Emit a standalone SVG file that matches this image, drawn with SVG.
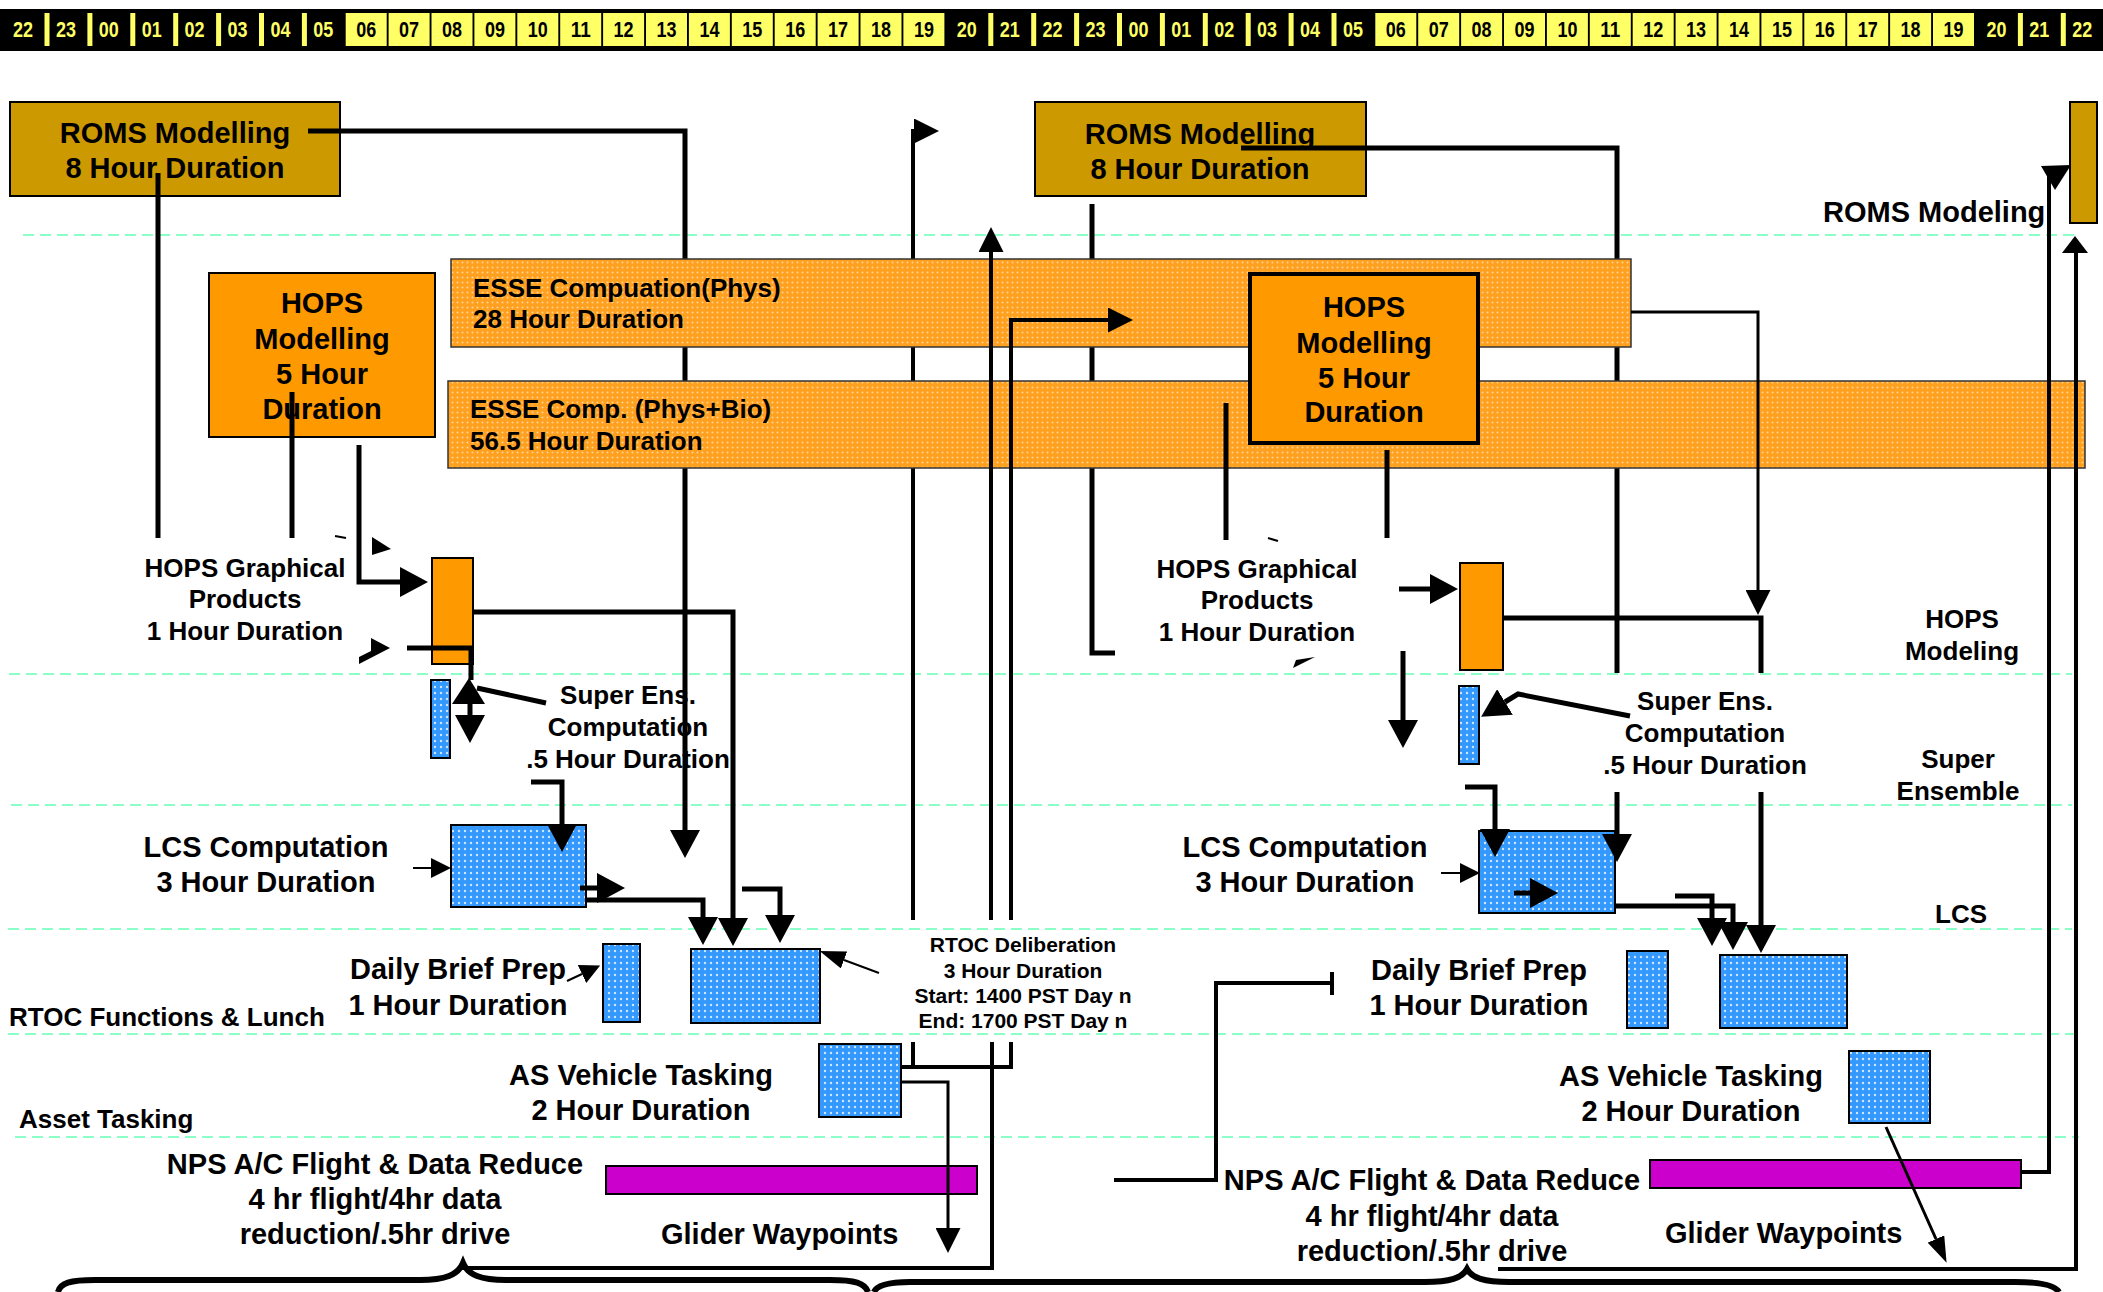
<svg xmlns="http://www.w3.org/2000/svg" width="2103" height="1292" viewBox="0 0 2103 1292">
<style>
.t29{font-family:'Liberation Sans',Arial,sans-serif;font-weight:bold;font-size:29px;fill:#000}
.t26{font-family:'Liberation Sans',Arial,sans-serif;font-weight:bold;font-size:26px;fill:#000}
.t21{font-family:'Liberation Sans',Arial,sans-serif;font-weight:bold;font-size:21px;fill:#000}
.hr{font-family:'Liberation Sans Narrow','Liberation Sans',Arial,sans-serif;font-weight:bold;font-size:22px;text-anchor:middle}
.hy{fill:#FFFF66}
.hk{fill:#000}
.mid{text-anchor:middle}
.end{text-anchor:end}
.lane{stroke:#8CFFC6;stroke-width:2;stroke-dasharray:11 6}
.c5{fill:none;stroke:#000;stroke-width:5;stroke-linejoin:miter}
.c4{fill:none;stroke:#000;stroke-width:4;stroke-linejoin:miter}
.c3{fill:none;stroke:#000;stroke-width:3;stroke-linejoin:miter}
.c2{fill:none;stroke:#000;stroke-width:2;stroke-linejoin:miter}
.roms{fill:#CC9900;stroke:#000;stroke-width:2}
.hops{fill:#FF9900;stroke:#000;stroke-width:2}
.blue{fill:url(#blueDots);stroke:#000;stroke-width:2}
.band{fill:url(#orangeDots);stroke:#333;stroke-width:1.5}
.mag{fill:#CC00CC;stroke:#000;stroke-width:2}
.cell{fill:#FFFF66}
</style>
<defs>
<pattern id="blueDots" width="6" height="6" patternUnits="userSpaceOnUse"><rect width="6" height="6" fill="#3399FF"/><circle cx="3" cy="3" r="1.2" fill="#CFE7FF"/></pattern>
<pattern id="orangeDots" width="5" height="5" patternUnits="userSpaceOnUse"><rect width="5" height="5" fill="#FFA01F"/><circle cx="2.5" cy="2.5" r="1" fill="#FFD596"/></pattern>
<marker id="ahBig" markerUnits="userSpaceOnUse" markerWidth="28" markerHeight="30" refX="0" refY="15" orient="auto" viewBox="0 0 28 30"><path d="M0,0 L28,15 L0,30 Z" fill="#000"/></marker>
<marker id="ahMed" markerUnits="userSpaceOnUse" markerWidth="25" markerHeight="25" refX="0" refY="12.5" orient="auto" viewBox="0 0 25 25"><path d="M0,0 L25,12.5 L0,25 Z" fill="#000"/></marker>
<marker id="ahSm" markerUnits="userSpaceOnUse" markerWidth="20" markerHeight="20" refX="0" refY="10" orient="auto" viewBox="0 0 20 20"><path d="M0,0 L20,10 L0,20 Z" fill="#000"/></marker>
<marker id="ahNarrow" markerUnits="userSpaceOnUse" markerWidth="26" markerHeight="18" refX="0" refY="9" orient="auto" viewBox="0 0 26 18"><path d="M0,0 L26,9 L0,18 Z" fill="#000"/></marker>
</defs>
<rect width="2103" height="1292" fill="#fff"/>

<g id="lanes">
<line class="lane" x1="23" y1="235" x2="2075" y2="235"/>
<line class="lane" x1="9" y1="674" x2="2072" y2="674"/>
<line class="lane" x1="11" y1="805" x2="2072" y2="805"/>
<line class="lane" x1="8" y1="929" x2="2072" y2="929"/>
<line class="lane" x1="8" y1="1034" x2="2079" y2="1034"/>
<line class="lane" x1="15" y1="1137" x2="2079" y2="1137"/>
</g>

<g id="timeline">
<rect x="0" y="9" width="2103" height="42" fill="#000"/>
<rect class="cell" x="345.7" y="13" width="41" height="33"/>
<rect class="cell" x="388.6" y="13" width="41" height="33"/>
<rect class="cell" x="431.5" y="13" width="41" height="33"/>
<rect class="cell" x="474.4" y="13" width="41" height="33"/>
<rect class="cell" x="517.3" y="13" width="41" height="33"/>
<rect class="cell" x="560.2" y="13" width="41" height="33"/>
<rect class="cell" x="603.1" y="13" width="41" height="33"/>
<rect class="cell" x="646" y="13" width="41" height="33"/>
<rect class="cell" x="688.9" y="13" width="41" height="33"/>
<rect class="cell" x="731.8" y="13" width="41" height="33"/>
<rect class="cell" x="774.7" y="13" width="41" height="33"/>
<rect class="cell" x="817.6" y="13" width="41" height="33"/>
<rect class="cell" x="860.5" y="13" width="41" height="33"/>
<rect class="cell" x="903.4" y="13" width="41" height="33"/>
<rect class="cell" x="1375.3" y="13" width="41" height="33"/>
<rect class="cell" x="1418.2" y="13" width="41" height="33"/>
<rect class="cell" x="1461.1" y="13" width="41" height="33"/>
<rect class="cell" x="1504" y="13" width="41" height="33"/>
<rect class="cell" x="1546.9" y="13" width="41" height="33"/>
<rect class="cell" x="1589.8" y="13" width="41" height="33"/>
<rect class="cell" x="1632.7" y="13" width="41" height="33"/>
<rect class="cell" x="1675.6" y="13" width="41" height="33"/>
<rect class="cell" x="1718.5" y="13" width="41" height="33"/>
<rect class="cell" x="1761.4" y="13" width="41" height="33"/>
<rect class="cell" x="1804.3" y="13" width="41" height="33"/>
<rect class="cell" x="1847.2" y="13" width="41" height="33"/>
<rect class="cell" x="1890.1" y="13" width="41" height="33"/>
<rect class="cell" x="1933" y="13" width="41" height="33"/>
<rect class="cell" x="44.5" y="13" width="5" height="33"/>
<rect class="cell" x="87.4" y="13" width="5" height="33"/>
<rect class="cell" x="130.3" y="13" width="5" height="33"/>
<rect class="cell" x="173.2" y="13" width="5" height="33"/>
<rect class="cell" x="216.1" y="13" width="5" height="33"/>
<rect class="cell" x="259" y="13" width="5" height="33"/>
<rect class="cell" x="301.9" y="13" width="5" height="33"/>
<rect class="cell" x="988.3" y="13" width="5" height="33"/>
<rect class="cell" x="1031.2" y="13" width="5" height="33"/>
<rect class="cell" x="1074.1" y="13" width="5" height="33"/>
<rect class="cell" x="1117" y="13" width="5" height="33"/>
<rect class="cell" x="1159.9" y="13" width="5" height="33"/>
<rect class="cell" x="1202.8" y="13" width="5" height="33"/>
<rect class="cell" x="1245.7" y="13" width="5" height="33"/>
<rect class="cell" x="1288.6" y="13" width="5" height="33"/>
<rect class="cell" x="1331.5" y="13" width="5" height="33"/>
<rect class="cell" x="2017.9" y="13" width="5" height="33"/>
<rect class="cell" x="2060.8" y="13" width="5" height="33"/>
<text class="hr hy" x="23" y="37" textLength="20" lengthAdjust="spacingAndGlyphs">22</text>
<text class="hr hy" x="65.9" y="37" textLength="20" lengthAdjust="spacingAndGlyphs">23</text>
<text class="hr hy" x="108.8" y="37" textLength="20" lengthAdjust="spacingAndGlyphs">00</text>
<text class="hr hy" x="151.7" y="37" textLength="20" lengthAdjust="spacingAndGlyphs">01</text>
<text class="hr hy" x="194.6" y="37" textLength="20" lengthAdjust="spacingAndGlyphs">02</text>
<text class="hr hy" x="237.5" y="37" textLength="20" lengthAdjust="spacingAndGlyphs">03</text>
<text class="hr hy" x="280.4" y="37" textLength="20" lengthAdjust="spacingAndGlyphs">04</text>
<text class="hr hy" x="323.3" y="37" textLength="20" lengthAdjust="spacingAndGlyphs">05</text>
<text class="hr hk" x="366.2" y="37" textLength="20" lengthAdjust="spacingAndGlyphs">06</text>
<text class="hr hk" x="409.1" y="37" textLength="20" lengthAdjust="spacingAndGlyphs">07</text>
<text class="hr hk" x="452" y="37" textLength="20" lengthAdjust="spacingAndGlyphs">08</text>
<text class="hr hk" x="494.9" y="37" textLength="20" lengthAdjust="spacingAndGlyphs">09</text>
<text class="hr hk" x="537.8" y="37" textLength="20" lengthAdjust="spacingAndGlyphs">10</text>
<text class="hr hk" x="580.7" y="37" textLength="20" lengthAdjust="spacingAndGlyphs">11</text>
<text class="hr hk" x="623.6" y="37" textLength="20" lengthAdjust="spacingAndGlyphs">12</text>
<text class="hr hk" x="666.5" y="37" textLength="20" lengthAdjust="spacingAndGlyphs">13</text>
<text class="hr hk" x="709.4" y="37" textLength="20" lengthAdjust="spacingAndGlyphs">14</text>
<text class="hr hk" x="752.3" y="37" textLength="20" lengthAdjust="spacingAndGlyphs">15</text>
<text class="hr hk" x="795.2" y="37" textLength="20" lengthAdjust="spacingAndGlyphs">16</text>
<text class="hr hk" x="838.1" y="37" textLength="20" lengthAdjust="spacingAndGlyphs">17</text>
<text class="hr hk" x="881" y="37" textLength="20" lengthAdjust="spacingAndGlyphs">18</text>
<text class="hr hk" x="923.9" y="37" textLength="20" lengthAdjust="spacingAndGlyphs">19</text>
<text class="hr hy" x="966.8" y="37" textLength="20" lengthAdjust="spacingAndGlyphs">20</text>
<text class="hr hy" x="1009.7" y="37" textLength="20" lengthAdjust="spacingAndGlyphs">21</text>
<text class="hr hy" x="1052.6" y="37" textLength="20" lengthAdjust="spacingAndGlyphs">22</text>
<text class="hr hy" x="1095.5" y="37" textLength="20" lengthAdjust="spacingAndGlyphs">23</text>
<text class="hr hy" x="1138.4" y="37" textLength="20" lengthAdjust="spacingAndGlyphs">00</text>
<text class="hr hy" x="1181.3" y="37" textLength="20" lengthAdjust="spacingAndGlyphs">01</text>
<text class="hr hy" x="1224.2" y="37" textLength="20" lengthAdjust="spacingAndGlyphs">02</text>
<text class="hr hy" x="1267.1" y="37" textLength="20" lengthAdjust="spacingAndGlyphs">03</text>
<text class="hr hy" x="1310" y="37" textLength="20" lengthAdjust="spacingAndGlyphs">04</text>
<text class="hr hy" x="1352.9" y="37" textLength="20" lengthAdjust="spacingAndGlyphs">05</text>
<text class="hr hk" x="1395.8" y="37" textLength="20" lengthAdjust="spacingAndGlyphs">06</text>
<text class="hr hk" x="1438.7" y="37" textLength="20" lengthAdjust="spacingAndGlyphs">07</text>
<text class="hr hk" x="1481.6" y="37" textLength="20" lengthAdjust="spacingAndGlyphs">08</text>
<text class="hr hk" x="1524.5" y="37" textLength="20" lengthAdjust="spacingAndGlyphs">09</text>
<text class="hr hk" x="1567.4" y="37" textLength="20" lengthAdjust="spacingAndGlyphs">10</text>
<text class="hr hk" x="1610.3" y="37" textLength="20" lengthAdjust="spacingAndGlyphs">11</text>
<text class="hr hk" x="1653.2" y="37" textLength="20" lengthAdjust="spacingAndGlyphs">12</text>
<text class="hr hk" x="1696.1" y="37" textLength="20" lengthAdjust="spacingAndGlyphs">13</text>
<text class="hr hk" x="1739" y="37" textLength="20" lengthAdjust="spacingAndGlyphs">14</text>
<text class="hr hk" x="1781.9" y="37" textLength="20" lengthAdjust="spacingAndGlyphs">15</text>
<text class="hr hk" x="1824.8" y="37" textLength="20" lengthAdjust="spacingAndGlyphs">16</text>
<text class="hr hk" x="1867.7" y="37" textLength="20" lengthAdjust="spacingAndGlyphs">17</text>
<text class="hr hk" x="1910.6" y="37" textLength="20" lengthAdjust="spacingAndGlyphs">18</text>
<text class="hr hk" x="1953.5" y="37" textLength="20" lengthAdjust="spacingAndGlyphs">19</text>
<text class="hr hy" x="1996.4" y="37" textLength="20" lengthAdjust="spacingAndGlyphs">20</text>
<text class="hr hy" x="2039.3" y="37" textLength="20" lengthAdjust="spacingAndGlyphs">21</text>
<text class="hr hy" x="2082.2" y="37" textLength="20" lengthAdjust="spacingAndGlyphs">22</text>
</g>

<g id="lane-labels">
<text class="t29" x="1823" y="222">ROMS Modeling</text>
<text class="t26 mid" x="1962" y="628">HOPS</text>
<text class="t26 mid" x="1962" y="660">Modeling</text>
<text class="t26 mid" x="1958" y="768">Super</text>
<text class="t26 mid" x="1958" y="800">Ensemble</text>
<text class="t26 mid" x="1961" y="923">LCS</text>
<text class="t26" x="9" y="1026">RTOC Functions &amp; Lunch</text>
<text class="t26" x="19" y="1128">Asset Tasking</text>
</g>

<g id="roms-1">
<rect class="roms" x="10" y="102" width="330" height="94"/>
<text class="t29 mid" x="175" y="143">ROMS Modelling</text>
<text class="t29 mid" x="175" y="178">8 Hour Duration</text>
</g>
<g id="roms-2">
<rect class="roms" x="1035" y="102" width="331" height="94"/>
<text class="t29 mid" x="1200" y="144">ROMS Modelling</text>
<text class="t29 mid" x="1200" y="179">8 Hour Duration</text>
</g>
<g id="roms-3">
<rect class="roms" x="2070" y="102" width="27" height="121"/>
</g>
<g id="hops-1">
<rect class="hops" x="209" y="273" width="226" height="164"/>
<text class="t29 mid" x="322" y="313">HOPS</text>
<text class="t29 mid" x="322" y="349">Modelling</text>
<text class="t29 mid" x="322" y="384">5 Hour</text>
<text class="t29 mid" x="322" y="419">Duration</text>
</g>
<g id="hops-graphical-1">
<rect class="hops" x="432" y="558" width="41" height="106"/>
<text class="t26 mid" x="245" y="577">HOPS Graphical</text>
<text class="t26 mid" x="245" y="608">Products</text>
<text class="t26 mid" x="245" y="640">1 Hour Duration</text>
</g>
<g id="hops-graphical-2">
<rect class="hops" x="1460" y="563" width="43" height="107"/>
<text class="t26 mid" x="1257" y="578">HOPS Graphical</text>
<text class="t26 mid" x="1257" y="609">Products</text>
<text class="t26 mid" x="1257" y="641">1 Hour Duration</text>
</g>
<g id="super-ens-1">
<rect class="blue" x="431" y="680" width="19" height="78"/>
<text class="t26 mid" x="628" y="704">Super Ens.</text>
<text class="t26 mid" x="628" y="736">Computation</text>
<text class="t26 mid" x="628" y="768">.5 Hour Duration</text>
</g>
<g id="super-ens-2">
<rect class="blue" x="1459" y="686" width="20" height="78"/>
<text class="t26 mid" x="1705" y="710">Super Ens.</text>
<text class="t26 mid" x="1705" y="742">Computation</text>
<text class="t26 mid" x="1705" y="774">.5 Hour Duration</text>
</g>
<g id="lcs-1">
<rect class="blue" x="451" y="825" width="135" height="82"/>
<text class="t29 mid" x="266" y="857">LCS Computation</text>
<text class="t29 mid" x="266" y="892">3 Hour Duration</text>
</g>
<g id="lcs-2">
<rect class="blue" x="1479" y="831" width="136" height="82"/>
<text class="t29 mid" x="1305" y="857">LCS Computation</text>
<text class="t29 mid" x="1305" y="892">3 Hour Duration</text>
</g>
<g id="daily-brief-1">
<rect class="blue" x="603" y="944" width="37" height="78"/>
<text class="t29 mid" x="458" y="979">Daily Brief Prep</text>
<text class="t29 mid" x="458" y="1015">1 Hour Duration</text>
</g>
<g id="daily-brief-2">
<rect class="blue" x="1627" y="951" width="41" height="77"/>
<text class="t29 mid" x="1479" y="980">Daily Brief Prep</text>
<text class="t29 mid" x="1479" y="1015">1 Hour Duration</text>
</g>
<g id="rtoc-1">
<rect class="blue" x="691" y="949" width="129" height="74"/>
<text class="t21 mid" x="1023" y="952">RTOC Deliberation</text>
<text class="t21 mid" x="1023" y="978">3 Hour Duration</text>
<text class="t21 mid" x="1023" y="1003">Start: 1400 PST Day n</text>
<text class="t21 mid" x="1023" y="1028">End: 1700 PST Day n</text>
</g>
<g id="rtoc-2">
<rect class="blue" x="1720" y="955" width="127" height="73"/>
</g>
<g id="as-vehicle-1">
<rect class="blue" x="819" y="1044" width="82" height="73"/>
<text class="t29 mid" x="641" y="1085">AS Vehicle Tasking</text>
<text class="t29 mid" x="641" y="1120">2 Hour Duration</text>
</g>
<g id="as-vehicle-2">
<rect class="blue" x="1849" y="1051" width="81" height="72"/>
<text class="t29 mid" x="1691" y="1086">AS Vehicle Tasking</text>
<text class="t29 mid" x="1691" y="1121">2 Hour Duration</text>
</g>
<g id="nps-1">
<rect class="mag" x="606" y="1166" width="371" height="28"/>
<text class="t29 mid" x="375" y="1174">NPS A/C Flight &amp; Data Reduce</text>
<text class="t29 mid" x="375" y="1209">4 hr flight/4hr data</text>
<text class="t29 mid" x="375" y="1244">reduction/.5hr drive</text>
</g>
<g id="nps-2">
<rect class="mag" x="1650" y="1160" width="371" height="28"/>
<text class="t29 mid" x="1432" y="1190">NPS A/C Flight &amp; Data Reduce</text>
<text class="t29 mid" x="1432" y="1226">4 hr flight/4hr data</text>
<text class="t29 mid" x="1432" y="1261">reduction/.5hr drive</text>
</g>
<g id="glider-1">
<text class="t29" x="661" y="1244">Glider Waypoints</text>
</g>
<g id="glider-2">
<text class="t29" x="1665" y="1243">Glider Waypoints</text>
</g>

<g id="connectors-back">
<path class="c5" d="M308,131 H685 V830" marker-end="url(#ahBig)"/>
<path class="c4" d="M913,920 V131 H914" marker-end="url(#ahMed)"/>
<path class="c5" d="M1092,204 V653 H1115"/>
<path class="c5" d="M1241,148 H1617 V673"/>
</g>

<g id="esse-phys">
<rect class="band" x="451" y="259" width="1180" height="88"/>
<text class="t26" x="473" y="297">ESSE Compuation(Phys)</text>
<text class="t26" x="473" y="328">28 Hour Duration</text>
</g>
<g id="esse-phys-bio">
<rect class="band" x="448" y="381" width="1637" height="87"/>
<text class="t26" x="470" y="418">ESSE Comp. (Phys+Bio)</text>
<text class="t26" x="470" y="450">56.5 Hour Duration</text>
</g>
<g id="hops-2">
<rect fill="#FF9900" stroke="#000" stroke-width="4" x="1250" y="274" width="228" height="169"/>
<text class="t29 mid" x="1364" y="317">HOPS</text>
<text class="t29 mid" x="1364" y="353">Modelling</text>
<text class="t29 mid" x="1364" y="388">5 Hour</text>
<text class="t29 mid" x="1364" y="422">Duration</text>
</g>

<g id="connectors">
<path class="c5" d="M158,173 V538"/>
<path class="c5" d="M292,392 V538"/>
<path class="c5" d="M359,445 V582 H400" marker-end="url(#ahBig)"/>
<path class="c2" d="M335,536 L346,538"/>
<polygon points="372,537 391,549 372,555"/>
<polygon points="371,638 390,648 359,664 359,657 371,651"/>
<path class="c5" d="M473,612 H733 V918" marker-end="url(#ahBig)"/>
<path class="c5" d="M407,648 H471 V680"/>
<polygon points="469,678 452,704 485,704"/>
<path class="c5" d="M470,703 V715" marker-end="url(#ahBig)"/>
<path class="c5" d="M546,703 L477,688"/>
<path class="c5" d="M531,782 H562 V824" marker-end="url(#ahBig)"/>
<path class="c2" d="M413,868 H431" marker-end="url(#ahSm)"/>
<path class="c5" d="M580,888 H597" marker-end="url(#ahBig)"/>
<path class="c5" d="M586,900 H703 V917" marker-end="url(#ahBig)"/>
<path class="c5" d="M742,889 H780 V915" marker-end="url(#ahBig)"/>
<path class="c2" d="M879,973 L844,960" marker-end="url(#ahNarrow)"/>
<path class="c2" d="M567,981 L582,974" marker-end="url(#ahSm)"/>
<path class="c4" d="M991,920 V252" marker-end="url(#ahMed)"/>
<path class="c4" d="M463,1268 H992 V1042"/>
<path class="c4" d="M1011,920 V320 H1108" marker-end="url(#ahMed)"/>
<path class="c4" d="M901,1067 H1011 V1042"/>
<path class="c4" d="M913,1067 V1042"/>
<path class="c3" d="M901,1082 H948 V1228" marker-end="url(#ahMed)"/>
<path class="c5" d="M1226,403 V540"/>
<path class="c5" d="M1387,450 V538"/>
<path class="c2" d="M1268,538 L1278,541"/>
<polygon points="1293,668 1315,657 1296,660"/>
<path class="c5" d="M1617,792 V834" marker-end="url(#ahBig)"/>
<path class="c3" d="M1631,312 H1758 V590" marker-end="url(#ahMed)"/>
<path class="c5" d="M1503,618 H1761 V673"/>
<path class="c5" d="M1761,792 V925" marker-end="url(#ahBig)"/>
<path class="c5" d="M1403,651 V720" marker-end="url(#ahBig)"/>
<path class="c5" d="M1399,589 H1430" marker-end="url(#ahBig)"/>
<path class="c5" d="M1630,716 L1518,694 L1505,702" marker-end="url(#ahBig)"/>
<path class="c5" d="M1465,787 H1495 V829" marker-end="url(#ahBig)"/>
<path class="c2" d="M1441,873 H1460" marker-end="url(#ahSm)"/>
<path class="c5" d="M1514,893 H1530" marker-end="url(#ahBig)"/>
<path class="c5" d="M1614,906 H1733 V922" marker-end="url(#ahBig)"/>
<path class="c5" d="M1675,896 H1712 V918" marker-end="url(#ahBig)"/>
<path class="c4" d="M2022,1172 H2049 V166"/>
<polygon points="2041,166 2071,165 2055,190"/>
<path class="c4" d="M1498,1269 H2076 V252"/>
<polygon points="2075,236 2062,253 2088,253"/>
<path class="c3" d="M1886,1127 L1936,1239" marker-end="url(#ahNarrow)"/>
<path class="c4" d="M1114,1180 H1216 V983 H1332"/>
<path class="c4" d="M1332,972 V995"/>
</g>

<g id="braces">
<path class="c5" style="stroke-width:6" d="M58,1292 C60,1283 70,1280 95,1280 L420,1280 C445,1280 458,1275 463,1263 C468,1275 481,1280 506,1280 L830,1280 C855,1280 865,1283 868,1292"/>
<path class="c5" style="stroke-width:6" d="M874,1292 C877,1285 890,1282 910,1282 L1425,1282 C1450,1282 1462,1278 1467,1269 C1472,1278 1484,1282 1509,1282 L2015,1282 C2040,1282 2055,1285 2059,1292"/>
</g>
</svg>
